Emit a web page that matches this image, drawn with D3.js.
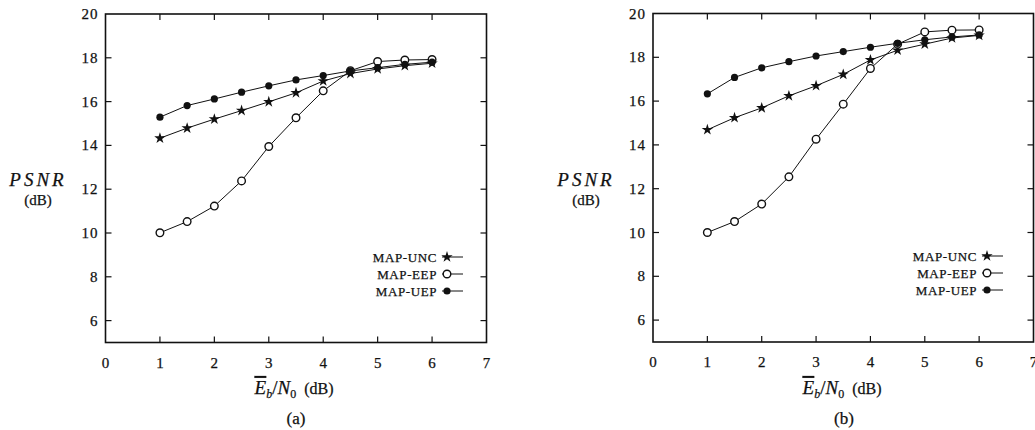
<!DOCTYPE html>
<html>
<head>
<meta charset="utf-8">
<script src="https://cdn.jsdelivr.net/npm/d3@7"></script>
<style>
  body { margin: 0; background: #fff; }
  text { stroke: #111; stroke-width: 0.25px; }
</style>
</head>
<body>
<script>
// x values (Eb/N0 in dB)
var snr = [1, 1.5, 2, 2.5, 3, 3.5, 4, 4.5, 5, 5.5, 6];

// panel (a)
var uncA = [14.33, 14.79, 15.2, 15.59, 15.99, 16.4, 16.94, 17.28, 17.49, 17.64, 17.75];
var eepA = [10.01, 10.52, 11.23, 12.38, 13.95, 15.26, 16.49, 17.41, 17.83, 17.9, 17.92];
var uepA = [15.29, 15.82, 16.12, 16.43, 16.72, 16.99, 17.19, 17.4, 17.55, 17.7, 17.8];

// panel (b)
var uncB = [14.69, 15.24, 15.69, 16.24, 16.7, 17.22, 17.88, 18.32, 18.6, 18.88, 19.0];
var eepB = [10.0, 10.5, 11.3, 12.54, 14.26, 15.86, 17.49, 18.6, 19.16, 19.24, 19.25];
var uepB = [16.33, 17.08, 17.52, 17.8, 18.06, 18.26, 18.46, 18.64, 18.8, 18.93, 19.02];

var seriesNames = ["MAP-UNC", "MAP-EEP", "MAP-UEP"];
var xTicks = [0, 1, 2, 3, 4, 5, 6, 7];
var yTicks = [6, 8, 10, 12, 14, 16, 18, 20];

var serif = "'Liberation Serif', 'Times New Roman', 'DejaVu Serif', serif";

var svg = d3.select("body").append("svg")
  .attr("width", 1035)
  .attr("height", 430)
  .attr("font-family", serif);

function drawPanel(p) {
  var x = d3.scaleLinear().domain([0, 7]).range([p.left, p.right]);
  var y = d3.scaleLinear().domain([5, 20]).range([p.bottom, p.top]);
  var g = svg.append("g").attr("font-family", serif).attr("fill", "#111");
  var tl = 6;

  // inward ticks on all four sides
  g.selectAll(".tb").data(xTicks.slice(1, -1)).enter().append("line")
    .attr("x1", d => x(d)).attr("x2", d => x(d))
    .attr("y1", p.bottom).attr("y2", p.bottom - tl)
    .attr("stroke", "#111").attr("stroke-width", 1.2);
  g.selectAll(".tt").data(xTicks.slice(1, -1)).enter().append("line")
    .attr("x1", d => x(d)).attr("x2", d => x(d))
    .attr("y1", p.top).attr("y2", p.top + tl)
    .attr("stroke", "#111").attr("stroke-width", 1.2);
  g.selectAll(".tl").data(yTicks.slice(0, -1)).enter().append("line")
    .attr("x1", p.left).attr("x2", p.left + tl)
    .attr("y1", d => y(d)).attr("y2", d => y(d))
    .attr("stroke", "#111").attr("stroke-width", 1.2);
  g.selectAll(".tr").data(yTicks.slice(0, -1)).enter().append("line")
    .attr("x1", p.right).attr("x2", p.right - tl)
    .attr("y1", d => y(d)).attr("y2", d => y(d))
    .attr("stroke", "#111").attr("stroke-width", 1.2);

  // frame
  g.append("rect")
    .attr("x", p.left).attr("y", p.top)
    .attr("width", p.right - p.left).attr("height", p.bottom - p.top)
    .attr("fill", "none").attr("stroke", "#111").attr("stroke-width", 1.6);

  // tick labels
  g.selectAll(".xl").data(xTicks).enter().append("text")
    .attr("x", d => x(d)).attr("y", p.bottom + 25)
    .attr("text-anchor", "middle").attr("font-size", 15)
    .text(d => d);
  g.selectAll(".yl").data(yTicks).enter().append("text")
    .attr("x", p.left - 7).attr("y", d => y(d) + 5)
    .attr("text-anchor", "end").attr("font-size", 15).attr("letter-spacing", 1)
    .text(d => d);

  // y label
  g.append("text").attr("x", p.ylabX).attr("y", 186)
    .attr("text-anchor", "middle")
    .attr("font-size", 19).attr("font-style", "italic").attr("letter-spacing", 3)
    .text("PSNR");
  g.append("text").attr("x", p.ylabX).attr("y", 205)
    .attr("text-anchor", "middle").attr("font-size", 15)
    .text("(dB)");

  // x label
  var xl = g.append("text").attr("x", p.xlabX).attr("y", 394)
    .attr("text-anchor", "middle").attr("font-size", 19);
  xl.append("tspan").attr("font-style", "italic").style("text-decoration", "overline").text("E");
  xl.append("tspan").attr("font-style", "italic").attr("font-size", 12).attr("dy", 4).text("b");
  xl.append("tspan").attr("dy", -4).text("/");
  xl.append("tspan").attr("font-style", "italic").text("N");
  xl.append("tspan").attr("font-size", 12).attr("dy", 4).text("0");
  xl.append("tspan").attr("dy", -4).attr("font-size", 16).text("\u00a0\u00a0(dB)");

  g.append("text").attr("x", p.xlabX + 2).attr("y", 424)
    .attr("text-anchor", "middle").attr("font-size", 17)
    .text(p.caption);

  // series
  var line = d3.line().x((d, i) => x(snr[i])).y(d => y(d));
  var sets = [p.unc, p.eep, p.uep];
  var star = d3.symbol().type(d3.symbolStar).size(40);
  var kinds = ["star", "open", "dot"];

  function marker(sel, kind, cx, cy) {
    if (kind === "star") {
      sel.append("path").attr("d", star())
        .attr("transform", "translate(" + cx + "," + cy + ")")
        .attr("fill", "#111");
    } else if (kind === "open") {
      sel.append("circle").attr("cx", cx).attr("cy", cy).attr("r", 3.8)
        .attr("fill", "#fff").attr("stroke", "#111").attr("stroke-width", 1.4);
    } else {
      sel.append("circle").attr("cx", cx).attr("cy", cy).attr("r", 3.6)
        .attr("fill", "#111");
    }
  }

  sets.forEach(function(vals) {
    g.append("path").datum(vals).attr("d", line)
      .attr("fill", "none").attr("stroke", "#111").attr("stroke-width", 1);
  });
  sets.forEach(function(vals, k) {
    vals.forEach(function(v, i) { marker(g, kinds[k], x(snr[i]), y(v)); });
  });

  // legend
  seriesNames.forEach(function(name, k) {
    var ly = p.legY + k * 17;
    g.append("text").attr("x", p.legX).attr("y", ly + 4.5)
      .attr("text-anchor", "end").attr("font-size", 13).attr("letter-spacing", 0.6)
      .text(name);
    g.append("line").attr("x1", p.legX + 5).attr("x2", p.legX + 26)
      .attr("y1", ly).attr("y2", ly).attr("stroke", "#111").attr("stroke-width", 1);
    marker(g, kinds[k], p.legX + 10, ly);
  });
}

drawPanel({
  left: 105.5, right: 486.5, top: 14, bottom: 342.5,
  unc: uncA, eep: eepA, uep: uepA,
  ylabX: 38, xlabX: 294, caption: "(a)", legX: 437, legY: 257
});
drawPanel({
  left: 653, right: 1033.5, top: 13.5, bottom: 342,
  unc: uncB, eep: eepB, uep: uepB,
  ylabX: 586, xlabX: 842, caption: "(b)", legX: 977, legY: 256
});
</script>
</body>
</html>
